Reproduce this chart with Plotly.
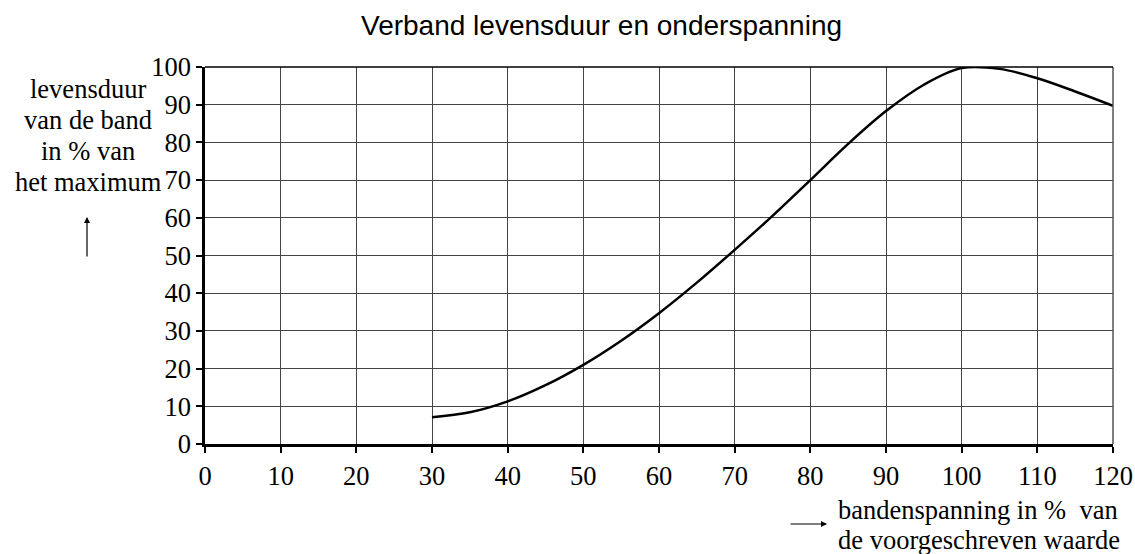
import plotly.graph_objects as go

spanning = [30, 35, 40, 45, 50, 55, 60, 65, 70, 75, 80, 85, 90, 95, 100, 105, 110, 115, 120]
levensduur = [7.1, 8.4, 11.3, 15.6, 21, 27.4, 34.7, 42.8, 51.5, 60.5, 70, 79.6, 88.3, 95.3, 99.7, 99.5, 97, 93.5, 89.7]

x_ticks = list(range(0, 121, 10))
y_ticks = list(range(0, 101, 10))

title_text = "Verband levensduur en onderspanning"
y_label_lines = ["levensduur", "van de band", "in % van", "het maximum"]
x_label_lines = ["bandenspanning in %\u00a0 van", "de voorgeschreven waarde"]

serif = "Liberation Serif, Times New Roman, serif"
sans = "Liberation Sans, Arial, sans-serif"

# page pixel -> paper coordinates (plot area spans page x 205..1113, y 67..444)
def px(x):
    return (x - 205) / 908

def py(y):
    return (444 - y) / 377

fig = go.Figure()
fig.add_trace(go.Scatter(x=spanning, y=levensduur, mode="lines",
                         line=dict(color="black", width=2.5, shape="spline", smoothing=1.0),
                         showlegend=False, hoverinfo="skip"))

fig.update_layout(
    width=1135, height=554,
    margin=dict(l=205, r=22, t=67, b=110, autoexpand=False),
    paper_bgcolor="white", plot_bgcolor="white",
    font=dict(family=serif, color="black"),
)
fig.update_xaxes(range=[0, 120], tickvals=x_ticks, ticktext=[str(v) for v in x_ticks],
                 automargin=False,
                 showgrid=True, gridcolor="#444444", gridwidth=1,
                 showline=True, linecolor="black", linewidth=2.5,
                 ticks="outside", ticklen=6, tickcolor="black", tickwidth=1.5,
                 tickfont=dict(family=serif, size=26.5, color="black"),
                 zeroline=False)
fig.update_yaxes(range=[0, 100], tickvals=y_ticks, ticktext=[str(v) for v in y_ticks],
                 automargin=False,
                 showgrid=True, gridcolor="#444444", gridwidth=1,
                 showline=True, linecolor="black", linewidth=2.5,
                 ticks="outside", ticklen=6, tickcolor="black", tickwidth=1.5,
                 tickfont=dict(family=serif, size=26.5, color="black"),
                 zeroline=False)

# right and top borders
fig.add_shape(type="line", xref="paper", yref="paper", x0=1, x1=1, y0=0, y1=1,
              line=dict(color="#555555", width=1.5))
fig.add_shape(type="line", xref="paper", yref="paper", x0=0, x1=1, y0=1, y1=1,
              line=dict(color="black", width=1.5))

# title
fig.add_annotation(text=title_text, xref="paper", yref="paper", x=px(601), y=py(26),
                   showarrow=False, xanchor="center", yanchor="middle",
                   font=dict(family=sans, size=28, color="black"))

# y label
for txt, yy in zip(y_label_lines, [89, 120, 151, 182]):
    fig.add_annotation(text=txt, xref="paper", yref="paper", x=px(88), y=py(yy),
                       showarrow=False, xanchor="center", yanchor="middle",
                       font=dict(family=serif, size=26.5, color="black"))
fig.add_annotation(xref="paper", yref="paper", x=px(87), y=py(217),
                   ax=0, ay=41, axref="pixel", ayref="pixel",
                   text="", showarrow=True, arrowhead=2, arrowsize=1, arrowwidth=1.2, arrowcolor="black")

# x label
for txt, yy in zip(x_label_lines, [510, 540]):
    fig.add_annotation(text=txt, xref="paper", yref="paper", x=px(836), y=py(yy),
                       showarrow=False, xanchor="left", yanchor="middle",
                       font=dict(family=serif, size=26.5, color="black"))
fig.add_annotation(xref="paper", yref="paper", x=px(827), y=py(524),
                   ax=-38, ay=0, axref="pixel", ayref="pixel",
                   text="", showarrow=True, arrowhead=2, arrowsize=1, arrowwidth=1.2, arrowcolor="black")

fig.write_html("out.html", config={"displayModeBar": False},
               post_script="document.body.style.margin='0';document.body.style.overflow='hidden';")
